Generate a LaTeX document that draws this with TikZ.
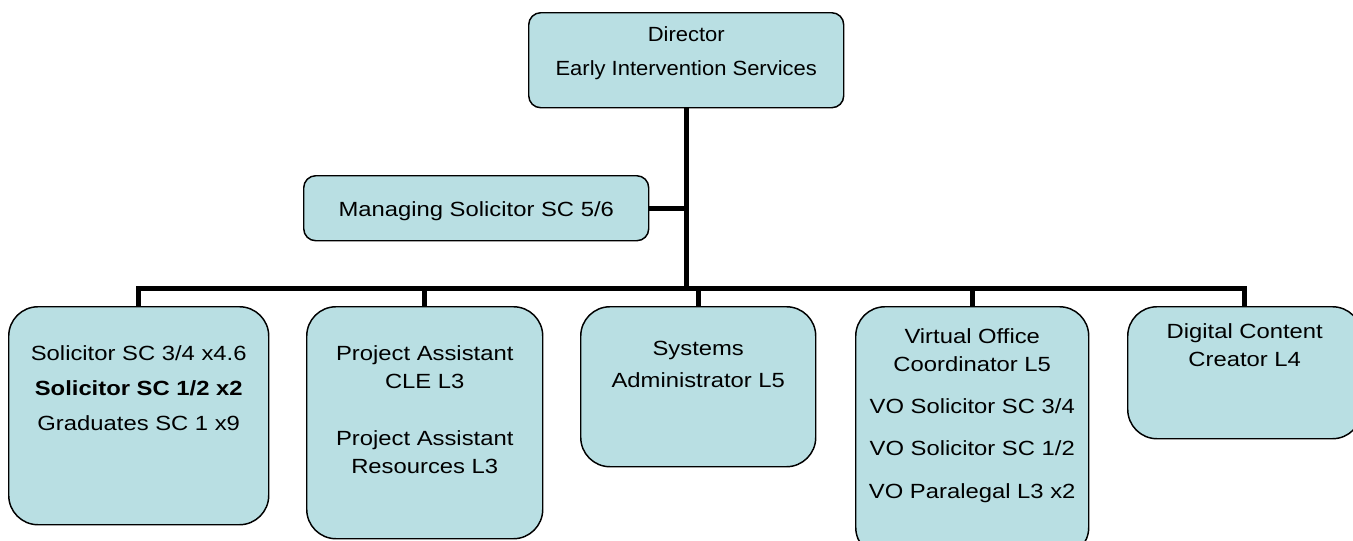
\documentclass[tikz,border=0pt]{standalone}
\usepackage{fontspec}
\setmainfont{Liberation Sans}[FakeStretch=1.16]
\newfontfamily\headfont{Liberation Sans}[FakeStretch=1.07]
\definecolor{postfill}{RGB}{185,223,227}
\newcommand{\inbox}[4]{\begin{minipage}[t][#2][t]{#1}\centering\vspace*{#3}#4\end{minipage}}
\tikzset{
    post/.style={draw=black,line width=1.1pt,fill=postfill,rounded corners=22pt,inner sep=0pt,anchor=north west,font=\fontsize{15.4}{21}\selectfont},
    headpost/.style={post,rounded corners=9pt},
    wire/.style={draw=black,line width=3.75pt}
}
\begin{document}
\begin{tikzpicture}[x=0.75pt,y=-0.75pt]
        \useasboundingbox (0,0) rectangle (1353,540);
        \node[headpost] (director) at (528,12) {\inbox{236.25pt}{71.25pt}{10.2pt}{\headfont Director\\[4.5pt]Early Intervention Services}};
        \node[headpost] (managing) at (303,175) {\inbox{258.75pt}{48.75pt}{19.2pt}{Managing Solicitor SC 5/6}};
        \node[post] (solicitors) at (8,306) {\inbox{195pt}{163.5pt}{29pt}{Solicitor SC 3/4 x4.6\\[5.25pt]\textbf{Solicitor SC 1/2 x2}\\[5.25pt]Graduates SC 1 x9}};
        \node[post] (projects) at (306,306) {\inbox{177pt}{174pt}{29pt}{Project Assistant\\CLE L3\\[21.75pt]Project Assistant\\Resources L3}};
        \node[post] (systems) at (580,306) {\inbox{176.25pt}{120pt}{26pt}{Systems\\[3pt]Administrator L5}};
        \node[post] (office) at (855,306) {\inbox{174.75pt}{187.5pt}{16.2pt}{Virtual Office\\Coordinator L5\\[10.75pt]VO Solicitor SC 3/4\\[10.75pt]VO Solicitor SC 1/2\\[10.75pt]VO Paralegal L3 x2}};
        \node[post] (content) at (1127,306) {\inbox{175.5pt}{99pt}{12.5pt}{Digital Content\\Creator L4}};
        \coordinate (hub) at (687,288);
        \draw[wire] (director.south) -- (director.south |- hub);
        \draw[wire] (managing.east) -- (managing.east -| hub);
        \draw[wire] (solicitors.north) -- (solicitors.north |- hub) -- (content.north |- hub) -- (content.north);
        \foreach \post in {projects,systems,office}
            \draw[wire] (\post.north) -- (\post.north |- hub);
    \end{tikzpicture}
\end{document}
